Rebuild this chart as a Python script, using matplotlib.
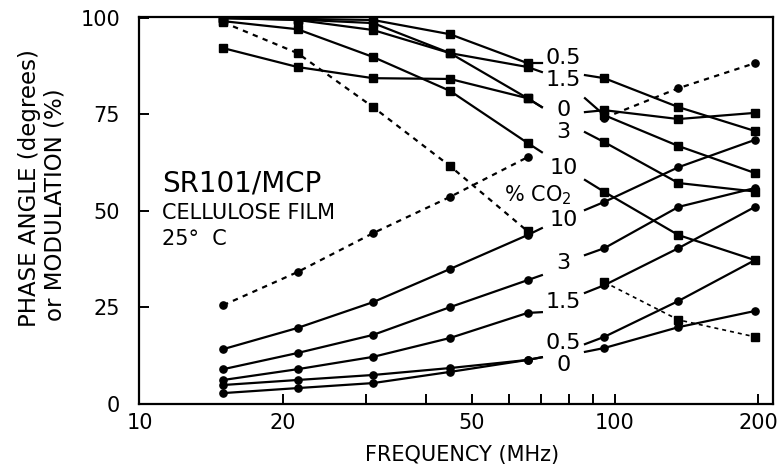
import matplotlib
matplotlib.use('Agg')
import matplotlib.pyplot as plt
from matplotlib.ticker import FixedLocator, NullFormatter

# modulation frequencies (MHz), measured in two sweeps
freq_low = [15, 21.5, 31, 45, 65.5]
freq_high = [95, 136, 197]

co2_levels = ['0', '0.5', '1.5', '3', '10']

# modulation (%), one row per CO2 level
mod_low = [
    [100, 99.5, 96.9, 90.9, 79.2],
    [100, 99.8, 99.5, 95.8, 88.3],
    [100, 99.6, 98.7, 90.9, 87.3],
    [92.2, 87.3, 84.4, 84.2, 79.2],
    [99.2, 97.1, 89.9, 81.1, 67.6],
]
mod_high = [
    [76.1, 73.8, 75.4],
    [74.8, 66.8, 59.8],
    [84.4, 76.9, 70.7],
    [67.8, 57.2, 55.0],
    [54.9, 43.7, 37.2],
]

# phase angle (degrees), one row per CO2 level
phase_low = [
    [2.7, 4.0, 5.3, 8.2, 11.3],
    [4.8, 6.1, 7.4, 9.2, 11.3],
    [6.1, 8.9, 12.1, 17.0, 23.5],
    [8.9, 13.1, 17.8, 25.0, 32.0],
    [14.1, 19.6, 26.3, 34.9, 43.7],
]
phase_high = [
    [14.4, 19.8, 24.0],
    [17.3, 26.6, 37.2],
    [30.7, 40.3, 51.0],
    [40.3, 51.0, 55.9],
    [52.3, 61.3, 68.4],
]

# dashed curves
ref_phase_low = [25.5, 34.1, 44.2, 53.6, 63.9]
ref_phase_high = [74.1, 81.8, 88.3]
ref_mod_low = [98.9, 90.9, 76.9, 61.6, 44.7]
ref_mod_high = [31.5, 21.7, 17.3]

# label column: text height, leader end on the left, leader start on the right
mod_text_y = [76.1, 89.6, 83.9, 70.4, 61.1]
mod_lead_left = [76.9, 88.3, 86.0, 76.9, 65.2]
mod_lead_right = [75.6, 79.2, 85.2, 70.4, 58.0]
phase_text_y = [10.0, 15.7, 26.3, 36.4, 47.6]
phase_lead_left = [12.0, 12.0, 23.7, 33.3, 45.5]
phase_lead_right = [13.4, 15.4, 28.7, 38.5, 50.2]
label_x, lead_x_left, lead_x_right = 78, 70.2, 86.5

fig = plt.figure(figsize=(7.8, 4.76), dpi=100)
ax = fig.add_axes([0.1788, 0.1523, 0.8122, 0.8130])
ax.set_xscale('log')
ax.set_xlim(10, 215)
ax.set_ylim(0, 100.4)

lw = 1.6
sq, dot = 6, 5.2
for i, lev in enumerate(co2_levels):
    ax.plot(freq_low, mod_low[i], '-s', color='black', lw=lw, ms=sq)
    ax.plot(freq_high, mod_high[i], '-s', color='black', lw=lw, ms=sq)
    ax.plot(freq_low, phase_low[i], '-o', color='black', lw=lw, ms=dot)
    ax.plot(freq_high, phase_high[i], '-o', color='black', lw=lw, ms=dot)

    # leaders from curve ends to the label column
    ax.plot([freq_low[-1], lead_x_left], [mod_low[i][-1], mod_lead_left[i]], color='black', lw=lw)
    ax.plot([lead_x_right, freq_high[0]], [mod_lead_right[i], mod_high[i][0]], color='black', lw=lw)
    ax.plot([freq_low[-1], lead_x_left], [phase_low[i][-1], phase_lead_left[i]], color='black', lw=lw)
    ax.plot([lead_x_right, freq_high[0]], [phase_lead_right[i], phase_high[i][0]], color='black', lw=lw)

    ax.text(label_x, mod_text_y[i], lev, fontsize=16, ha='center', va='center')
    ax.text(label_x, phase_text_y[i], lev, fontsize=16, ha='center', va='center')

ax.text(68.7, 54.1, '% CO$_2$', fontsize=15, ha='center', va='center')

dash = (0, (2.4, 2.4))
ax.plot(freq_low, ref_phase_low, marker='o', ls=dash, color='black', lw=lw, ms=dot)
ax.plot(freq_high, ref_phase_high, marker='o', ls=dash, color='black', lw=lw, ms=dot)
ax.plot(freq_low, ref_mod_low, marker='s', ls=dash, color='black', lw=lw, ms=sq)
ax.plot(freq_high, ref_mod_high, marker='s', ls=dash, color='black', lw=1.2, ms=sq)

ax.text(11.15, 57, 'SR101/MCP', fontsize=20, ha='left', va='center')
ax.text(11.15, 49.4, 'CELLULOSE FILM', fontsize=15, ha='left', va='center')
ax.text(11.15, 42.6, '25°  C', fontsize=15, ha='left', va='center')

ax.xaxis.set_major_locator(FixedLocator([10, 20, 50, 100, 200]))
ax.xaxis.set_major_formatter(plt.FixedFormatter(['10', '20', '50', '100', '200']))
ax.xaxis.set_minor_locator(FixedLocator([30, 40, 60, 70, 80, 90]))
ax.xaxis.set_minor_formatter(NullFormatter())
ax.set_yticks([0, 25, 50, 75, 100])

ax.tick_params(axis='both', which='both', direction='in', length=7, width=1.4,
               labelsize=15, top=False, right=False)
ax.tick_params(axis='x', pad=6.5)
ax.tick_params(axis='y', pad=14)
for s in ax.spines.values():
    s.set_linewidth(1.6)

fig.text(0.592, 0.044, 'FREQUENCY (MHz)', fontsize=15, ha='center', va='center')
fig.text(0.038, 0.605, 'PHASE ANGLE (degrees)', fontsize=16.5, rotation=90,
         ha='center', va='center')
fig.text(0.071, 0.569, 'or MODULATION (%)', fontsize=16.5, rotation=90,
         ha='center', va='center')

fig.savefig('out.png', dpi=100)
